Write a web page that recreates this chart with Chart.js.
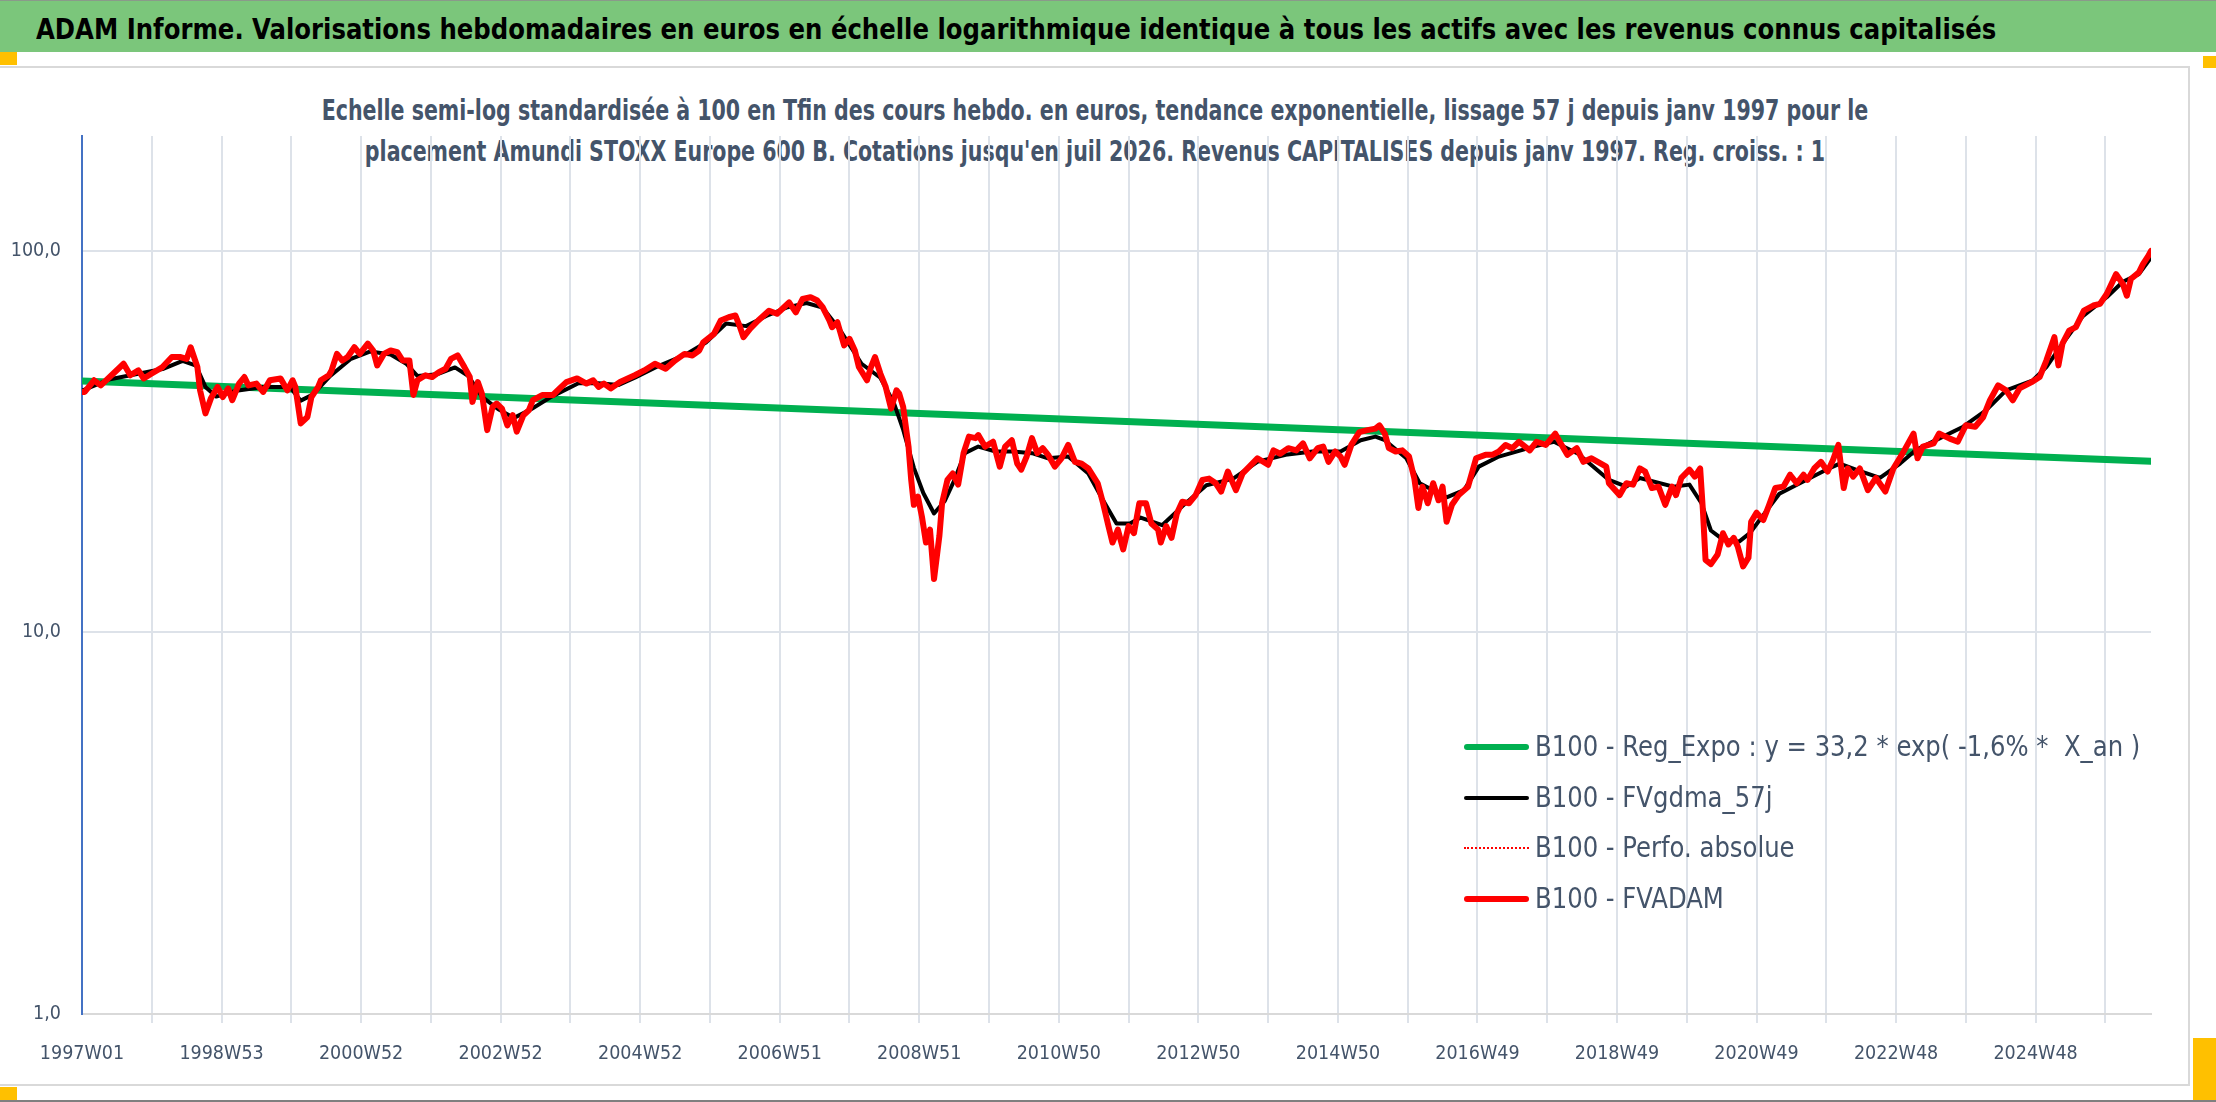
<!DOCTYPE html>
<html lang="fr">
<head>
<meta charset="utf-8">
<title>ADAM Informe</title>
<script src="https://cdn.jsdelivr.net/npm/chart.js@4.4.0/dist/chart.umd.min.js"></script>
<style>
  html, body { margin: 0; padding: 0; background: #fff; }
  body { position: relative; width: 2216px; height: 1102px; overflow: hidden;
         font-family: 'DejaVu Sans Condensed', 'DejaVu Sans', sans-serif; }
  #bar { position: absolute; left: 0; top: 0; width: 2216px; height: 52px; background: #7BC67B; border-top: 1px solid #8a9a8a; box-sizing: border-box; }
  #bar div { position: absolute; left: 36px; top: 2px; line-height: 52px; font-size: 29px; font-weight: bold; color: #000;
             white-space: nowrap; transform: scaleX(0.934); transform-origin: 0 50%; }
  .handle { position: absolute; background: #FFC000; z-index: 5; }
  #frame { position: absolute; left: 0; top: 66px; width: 2190px; height: 1020px; border: 2px solid #D9D9D9; border-left: none; box-sizing: border-box; }
  #sub { position: absolute; left: 0; top: 90px; width: 2190px; text-align: center; font-size: 28px; line-height: 41px; font-weight: bold; color: #44546A;
         transform: scaleX(0.816); transform-origin: 1095px 0; }
  #wrap { position: absolute; left: 0; top: 0; width: 2216px; height: 1102px; }
  #legend { position: absolute; left: 1464px; top: 722px; font-size: 28px; color: #44546A; }
  #legend .row { position: relative; height: 50.5px; white-space: pre; }
  #legend .mark { position: absolute; left: 0; width: 65px; top: 50%; }
  #legend .txt { position: absolute; left: 71px; top: 50%; line-height: 34px; margin-top: -17px; transform: scaleX(0.966); transform-origin: 0 50%; }
  #bottomline { position: absolute; left: 0; top: 1100px; width: 2216px; height: 2px; background: #7f7f7f; }
</style>
</head>
<body>
<div id="bar"><div>ADAM Informe. Valorisations hebdomadaires en euros en échelle logarithmique identique à tous les actifs avec les revenus connus capitalisés</div></div>
<div class="handle" style="left:0;top:52px;width:17px;height:13px"></div>
<div class="handle" style="left:2203px;top:56px;width:13px;height:12px"></div>
<div class="handle" style="left:0;top:1087px;width:17px;height:13px"></div>
<div class="handle" style="left:2193px;top:1038px;width:23px;height:62px"></div>
<div id="frame"></div>
<div id="sub">Echelle semi-log standardisée à 100 en Tfin des cours hebdo. en euros, tendance exponentielle, lissage 57 j depuis janv 1997 pour le<br>placement Amundi STOXX Europe 600 B. Cotations jusqu'en juil 2026. Revenus CAPITALISES depuis janv 1997. Reg. croiss. : 1</div>
<div id="wrap"><canvas id="chart"></canvas></div>
<div id="legend"></div>
<div id="bottomline"></div>

<script>
// x = semaine depuis 1997W01 (0 .. 1542 = juil 2026)
const xTickLabels = ['1997W01','1998W53','2000W52','2002W52','2004W52','2006W51','2008W51','2010W50',
  '2012W50','2014W50','2016W49','2018W49','2020W49','2022W48','2024W48'];
const yTickValues = [1, 10, 100];
const lastWeek = 1542;

const seriesLabels = [
  'B100 - Reg_Expo : y = 33,2 * exp( -1,6% *  X_an )',
  'B100 - FVgdma_57j',
  'B100 - Perfo. absolue',
  'B100 - FVADAM'
];

const regExpo = [[0, 45.6], [1542, 28.1]];

const fvgdma = [
  [0,43.0],[20,46.0],[40,47.5],[60,49.0],[75,51.5],[85,50.0],[92,44.0],[100,41.5],[115,43.0],[135,44.0],
  [155,44.0],[163,40.5],[172,42.0],[185,47.0],[200,52.0],[215,54.5],[230,53.5],[242,50.5],[250,47.0],[265,47.5],
  [278,49.5],[288,47.0],[298,41.5],[310,38.5],[322,36.5],[335,38.5],[350,41.5],[370,45.0],[385,45.0],[400,44.5],
  [412,46.5],[430,50.0],[450,53.5],[465,57.5],[480,64.5],[495,63.5],[510,67.5],[525,71.0],[540,73.0],[552,71.0],
  [565,62.0],[581,50.6],[595,46.5],[605,40.0],[612,34.0],[620,27.0],[627,23.2],[635,20.5],[643,22.1],[650,25.0],
  [658,29.5],[668,30.7],[681,29.8],[694,29.8],[708,29.5],[720,28.6],[735,28.9],[750,26.1],[761,22.2],[771,19.3],
  [781,19.3],[789,20.0],[805,19.1],[820,21.4],[838,24.3],[858,25.3],[876,28.0],[897,29.2],[917,29.8],[938,29.8],
  [953,31.9],[964,32.6],[971,31.9],[987,28.6],[997,24.6],[1017,22.6],[1030,23.6],[1041,27.2],[1056,28.9],[1082,30.7],
  [1097,31.6],[1115,29.4],[1138,25.1],[1151,24.1],[1161,25.4],[1186,24.1],[1198,24.4],[1207,21.8],[1214,18.5],[1223,17.5],
  [1235,17.3],[1243,18.2],[1253,20.3],[1265,23.1],[1285,25.1],[1300,26.7],[1310,27.7],[1322,26.7],[1340,25.4],[1355,27.7],
  [1367,30.1],[1384,32.2],[1402,34.6],[1419,38.2],[1434,43.1],[1454,45.8],[1464,49.6],[1476,57.1],[1491,67.3],[1509,75.6],
  [1521,83.0],[1533,86.9],[1542,96.0]
];

const fvadam = [
  [0,42.7],[2,42.7],[9,45.8],[14,44.4],[22,47.2],[31,50.6],[36,47.2],[42,48.6],[46,46.3],[52,47.7],
  [60,49.6],[67,52.7],[73,52.7],[78,52.1],[81,55.9],[86,49.6],[88,43.1],[92,37.5],[96,41.0],[101,44.0],
  [105,41.4],[109,43.6],[112,40.6],[117,44.9],[121,46.7],[124,44.4],[130,44.9],[135,42.7],[140,45.8],[148,46.3],
  [153,43.1],[157,45.8],[159,44.0],[163,35.3],[168,36.7],[171,41.4],[176,44.0],[178,45.8],[184,47.2],[186,48.6],
  [190,53.7],[194,51.6],[198,52.7],[203,55.9],[207,53.7],[213,57.1],[217,54.8],[220,50.1],[225,53.7],[230,54.8],
  [235,54.3],[239,51.6],[244,51.6],[247,41.9],[250,45.8],[256,47.2],[261,46.7],[266,48.1],[271,49.1],[275,52.1],
  [280,53.2],[285,49.6],[289,46.7],[291,40.2],[295,45.3],[298,42.3],[302,33.9],[306,39.0],[309,39.8],[313,38.6],
  [317,34.9],[321,37.1],[324,33.6],[329,37.1],[333,38.2],[336,40.6],[343,41.9],[351,41.9],[356,43.6],[361,45.3],
  [369,46.3],[376,44.9],[381,45.8],[385,44.0],[389,44.9],[394,43.6],[401,45.3],[412,47.2],[419,48.6],[427,50.6],
  [435,49.1],[442,51.6],[449,53.7],[455,53.2],[460,54.8],[463,57.6],[471,60.6],[476,65.7],[482,67.0],[487,67.7],
  [490,63.7],[493,59.4],[498,62.5],[504,65.7],[512,69.7],[518,68.4],[522,70.5],[527,73.3],[532,69.0],[537,74.8],
  [543,75.6],[548,74.1],[552,71.2],[557,65.7],[559,63.1],[563,65.0],[568,56.5],[572,58.8],[576,54.8],[579,49.6],
  [585,45.8],[588,49.6],[591,52.7],[595,47.7],[599,44.0],[603,38.6],[607,43.1],[609,42.3],[612,39.0],[616,30.7],
  [618,25.1],[620,21.6],[623,22.7],[626,20.1],[629,17.2],[632,18.6],[635,13.8],[639,17.9],[641,21.8],[645,25.1],
  [649,26.1],[653,24.4],[657,29.5],[661,32.6],[666,32.3],[668,32.9],[673,30.7],[679,31.6],[684,27.2],[688,30.7],
  [693,31.9],[697,27.7],[700,26.7],[704,28.9],[708,32.3],[712,29.5],[716,30.4],[720,29.2],[725,27.2],[730,28.6],
  [735,31.0],[740,28.0],[745,27.7],[750,26.9],[757,24.6],[761,21.8],[765,19.0],[768,17.2],[772,18.6],[776,16.5],
  [780,19.0],[784,18.2],[788,21.8],[793,21.8],[797,19.3],[802,18.6],[804,17.2],[808,19.0],[812,17.7],[816,20.5],
  [820,22.0],[825,21.8],[830,22.9],[835,25.1],[840,25.3],[845,24.6],[849,23.4],[854,26.4],[860,23.6],[865,26.1],
  [870,27.2],[876,28.6],[884,27.5],[888,30.0],[893,29.4],[899,30.4],[905,30.0],[910,31.3],[915,28.6],[921,30.4],
  [925,30.7],[929,28.0],[934,29.8],[938,28.9],[941,27.5],[946,31.0],[952,33.5],[958,33.9],[964,34.2],[967,34.9],
  [971,33.2],[974,30.4],[979,29.8],[984,30.0],[989,28.9],[993,25.3],[996,21.2],[999,24.1],[1003,21.8],[1007,24.6],
  [1011,22.2],[1014,24.1],[1017,19.5],[1021,21.6],[1026,22.9],[1033,24.1],[1039,28.6],[1046,29.2],[1051,29.2],[1056,29.8],
  [1061,31.0],[1066,30.4],[1071,31.6],[1079,30.0],[1084,31.6],[1091,31.0],[1098,33.2],[1102,31.3],[1107,29.2],[1114,30.4],
  [1119,28.0],[1125,28.6],[1132,27.7],[1136,27.2],[1138,24.6],[1146,22.9],[1151,24.6],[1156,24.4],[1161,26.9],[1165,26.4],
  [1170,23.9],[1175,24.1],[1180,21.6],[1185,24.1],[1188,22.9],[1192,25.4],[1198,26.7],[1202,25.6],[1206,26.9],[1208,21.0],
  [1210,15.5],[1214,15.1],[1219,16.0],[1223,18.2],[1227,17.0],[1231,17.7],[1234,16.8],[1238,14.9],[1242,15.7],[1244,19.5],
  [1248,20.6],[1253,19.7],[1257,21.4],[1262,23.9],[1268,24.1],[1273,25.9],[1278,24.6],[1283,25.9],[1286,25.1],[1291,26.9],
  [1296,28.0],[1301,26.4],[1305,28.3],[1309,31.0],[1313,23.9],[1316,26.9],[1320,25.6],[1325,26.9],[1331,23.6],[1337,25.4],
  [1344,23.4],[1350,26.9],[1357,29.5],[1365,33.2],[1368,28.6],[1372,30.7],[1380,31.3],[1384,33.2],[1392,32.2],[1398,31.6],
  [1404,34.9],[1411,34.6],[1417,36.7],[1422,40.6],[1428,44.4],[1434,43.1],[1439,40.6],[1444,43.6],[1453,45.3],[1459,46.7],
  [1464,51.6],[1470,59.4],[1473,50.1],[1476,57.1],[1481,61.8],[1486,63.1],[1492,69.7],[1499,71.9],[1504,72.6],[1509,77.1],
  [1516,86.9],[1521,81.9],[1524,76.3],[1527,84.4],[1533,87.8],[1536,92.3],[1540,97.0],[1542,100.0]
];

const GRID = '#DDE2E9';
const TICK_FONT = { family: "'DejaVu Sans Condensed', 'DejaVu Sans', sans-serif", size: 19.5 };

const toXY = (pairs) => pairs.map(([x, y]) => ({ x, y }));

const datasets = [
  { label: seriesLabels[0], data: toXY(regExpo), borderColor: '#00B050', borderWidth: 7, order: 3 },
  { label: seriesLabels[1], data: toXY(fvgdma), borderColor: '#000000', borderWidth: 4, order: 2 },
  { label: seriesLabels[2], data: toXY(fvadam), borderColor: '#FF0000', borderWidth: 1.5, borderDash: [2, 3], order: 1 },
  { label: seriesLabels[3], data: toXY(fvadam), borderColor: '#FF0000', borderWidth: 6, order: 0 }
].map(d => ({ ...d, pointRadius: 0, tension: 0, fill: false, borderJoinStyle: 'round', borderCapStyle: 'round' }));

const chart = new Chart(document.getElementById('chart').getContext('2d'), {
  type: 'line',
  data: { datasets },
  options: {
    responsive: true,
    maintainAspectRatio: false,
    animation: false,
    layout: { padding: { top: 136, left: 0, right: 65, bottom: 28 } },
    plugins: { legend: { display: false }, title: { display: false }, tooltip: { enabled: false } },
    scales: {
      x: {
        type: 'linear', min: 0, max: lastWeek,
        afterFit: (s) => { s.height = 60; },
        border: { color: '#D9D9D9', width: 2 },
        grid: { color: (c) => c.tick && c.tick.value === 0 ? 'rgba(0,0,0,0)' : GRID, lineWidth: 2, tickLength: 9, drawTicks: true },
        ticks: {
          stepSize: 52, autoSkip: false, maxRotation: 0, includeBounds: false, padding: 19,
          color: '#44546A', font: TICK_FONT,
          callback: (v) => v % 104 === 0 ? (xTickLabels[v / 104] || '') : ''
        }
      },
      y: {
        type: 'logarithmic', min: 1, max: 200,
        afterFit: (s) => { s.width = 82; },
        afterBuildTicks: (s) => { s.ticks = yTickValues.map(v => ({ value: v })); },
        border: { color: '#4472C4', width: 2 },
        grid: { color: GRID, lineWidth: 2, drawTicks: false },
        ticks: {
          padding: 21, color: '#44546A', font: TICK_FONT,
          callback: (v) => Number(v).toFixed(1).replace('.', ',')
        }
      }
    }
  }
});

// légende HTML dans la zone du graphique
function buildLegend() {
  const box = document.getElementById('legend');
  chart.data.datasets.forEach(ds => {
    const row = document.createElement('div');
    row.className = 'row';
    const mark = document.createElement('div');
    mark.className = 'mark';
    if (ds.borderDash) {
      mark.style.borderTop = '2px dotted ' + ds.borderColor;
      mark.style.marginTop = '-1px';
    } else {
      const w = Math.min(ds.borderWidth, 6);
      mark.style.height = w + 'px';
      mark.style.marginTop = (-w / 2) + 'px';
      mark.style.background = ds.borderColor;
      mark.style.borderRadius = w + 'px';
    }
    const txt = document.createElement('div');
    txt.className = 'txt';
    txt.textContent = ds.label;
    row.appendChild(mark);
    row.appendChild(txt);
    box.appendChild(row);
  });
}
buildLegend();
</script>
</body>
</html>
